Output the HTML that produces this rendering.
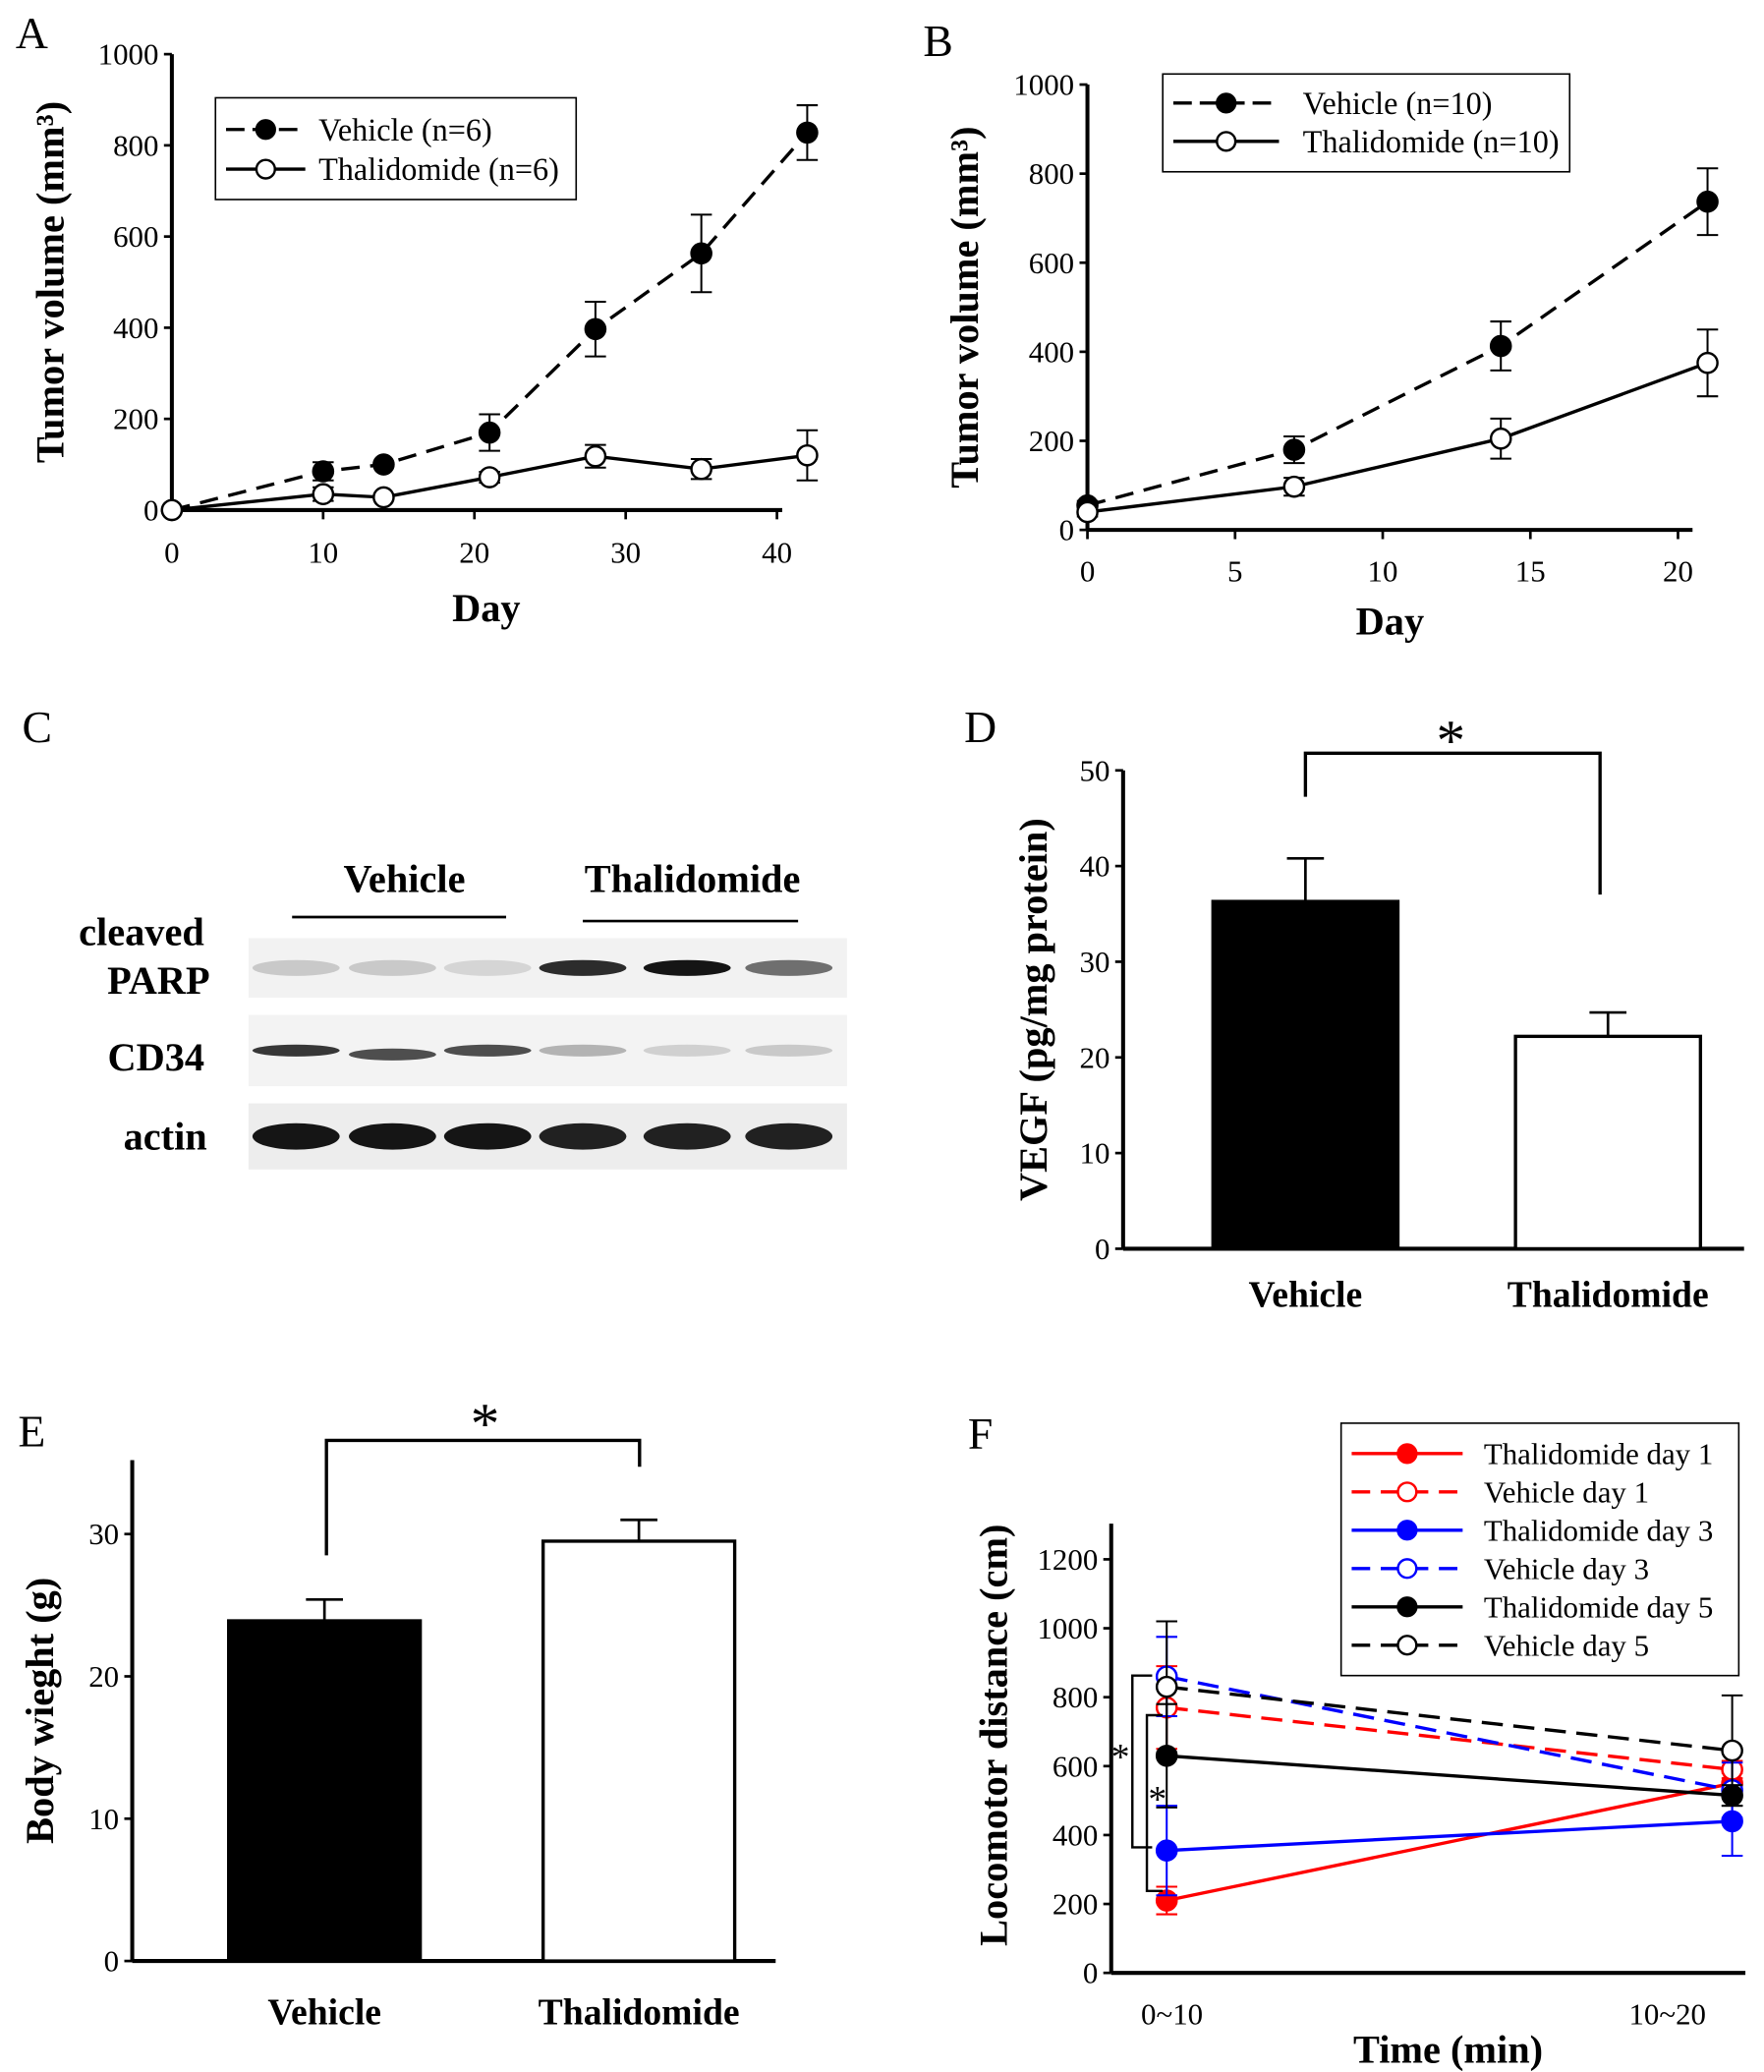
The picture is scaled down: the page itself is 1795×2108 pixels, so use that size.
<!DOCTYPE html>
<html><head><meta charset="utf-8">
<style>
html,body{margin:0;padding:0;background:#fff;}
svg{display:block;font-family:"Liberation Serif",serif;}
</style></head>
<body>
<svg id="fig" width="1795" height="2108" viewBox="0 0 1335 1568" xmlns="http://www.w3.org/2000/svg">
<rect width="1335" height="1568" fill="#fff"/>
</svg>
<script>
// ---- Panel A data
const aDays=[0,10,14,21,28,35,42];
const aVeh=[0,85,100,170,397,563,828];
const aVehErr=[0,20,0,40,60,85,60];
const aThal=[0,35,28,72,118,90,120];
const aThalErr=[0,15,0,12,25,22,55];
const aYTicks=[0,200,400,600,800,1000];
const aXTicks=[0,10,20,30,40];
// ---- Panel B data
const bDays=[0,7,14,21];
const bVeh=[55,180,413,737];
const bVehErr=[10,30,55,75];
const bThal=[40,97,205,375];
const bThalErr=[10,20,45,75];
const bYTicks=[0,200,400,600,800,1000];
const bXTicks=[0,5,10,15,20];
// ---- Panel D data
const dCats=["Vehicle","Thalidomide"];
const dVals=[36.3,22.2];
const dErr=[4.5,2.5];
const dYTicks=[0,10,20,30,40,50];
// ---- Panel E data
const eCats=["Vehicle","Thalidomide"];
const eVals=[23.9,29.5];
const eErr=[1.5,1.5];
const eYTicks=[0,10,20,30];
// ---- Panel F data
const fCats=["0~10","10~20"];
const fNames=["Thalidomide  day 1","Vehicle  day 1","Thalidomide  day 3","Vehicle  day 3","Thalidomide  day 5","Vehicle  day 5"];
const fVals=[[210,550],[770,590],[355,440],[860,530],[630,515],[830,645]];
const fErrs=[[40,30],[120,25],[130,100],[115,80],[150,30],[190,160]];
const fYTicks=[0,200,400,600,800,1000,1200];

const NS="http://www.w3.org/2000/svg";
const svg=document.getElementById('fig');
function el(tag,attrs,parent,text){const e=document.createElementNS(NS,tag);for(const k in attrs)e.setAttribute(k,attrs[k]);if(text!==undefined)e.textContent=text;(parent||svg).appendChild(e);return e;}
function grp(name){const g=el('g',{});return g;}
function txt(g,x,y,s,size,opts){opts=opts||{};const t=el('text',{x:x,y:y,'font-size':size,'text-anchor':opts.anchor||'middle','dominant-baseline':'central','font-weight':opts.bold?'bold':'normal',fill:opts.fill||'#000'},g,s);if(opts.rot)t.setAttribute('transform','rotate(-90 '+x+' '+y+')');return t;}
function line(g,x1,y1,x2,y2,w,c,dash){const l=el('line',{x1:x1,y1:y1,x2:x2,y2:y2,stroke:c||'#000','stroke-width':w||2});if(dash)l.setAttribute('stroke-dasharray',dash);g.appendChild(l);return l;}

function axes(g,xa,y0,ytop,xend,yt,ys,xtArr,xs,ylab,xlab,ylabX,xlabY,tickY){
  line(g,xa,y0,xa,ytop,3);line(g,xa,y0,xend,y0,3);
  yt.forEach(v=>{const y=ys(v);line(g,xa-6,y,xa,y,2);const t=txt(g,xa-10,y,String(v),23,{anchor:'end'});});
  if(xtArr)xtArr.forEach(v=>{const x=xs(v);line(g,x,y0,x,y0+7,2);const t=txt(g,x,tickY,String(v),23);});
  const yl=txt(g,ylabX,(y0+ytop)/2+(ylab.cy||0),ylab.t,30,{bold:true,rot:true});
  if(xlab){const xl=txt(g,xlab.x,xlabY,xlab.t,30,{bold:true});}
}
function series(g,xsArr,vals,errs,xs,ys,color,dash,filled,name){
  const sg=el('g',{},g);
  const pts=xsArr.map((d,i)=>xs(d)+','+ys(vals[i])).join(' ');
  const pl=el('polyline',{points:pts,fill:'none',stroke:color,'stroke-width':2.5},sg);if(dash)pl.setAttribute('stroke-dasharray',dash);
  xsArr.forEach((d,i)=>{const x=xs(d);if(errs[i]>0){line(sg,x,ys(vals[i]-errs[i]),x,ys(vals[i]+errs[i]),1.5,color);line(sg,x-8,ys(vals[i]+errs[i]),x+8,ys(vals[i]+errs[i]),1.5,color);line(sg,x-8,ys(vals[i]-errs[i]),x+8,ys(vals[i]-errs[i]),1.5,color);}
    const c=el('circle',{cx:x,cy:ys(vals[i]),r:7.5,fill:filled?color:'#fff',stroke:color,'stroke-width':1.8},sg);});
}
function legendEntry(g,x,y,len,color,dash,filled,label,fs,gap){
  const lg=el('g',{},g);
  line(lg,x,y,x+len,y,2.5,color,dash);el('circle',{cx:x+len/2,cy:y,r:7,fill:filled?color:'#fff',stroke:color,'stroke-width':1.8},lg);
  txt(lg,x+len+(gap||12),y,label,fs,{anchor:'start'});
}

// ===== Panel A
(function(){
const g=grp('panel-a-chart');
const xs=d=>130+d*11.45, ys=v=>386-v*0.345;
txt(g,24,25,'A',34);
axes(g,130,386,41,592,aYTicks,ys,aXTicks,xs,{t:'Tumor volume (mm³)'},{t:'Day',x:368},38,460,418);
series(g,aDays,aVeh,aVehErr,xs,ys,'#000','14 8',true,'series-vehicle');
series(g,aDays,aThal,aThalErr,xs,ys,'#000',null,false,'series-thalidomide');
const lg=el('g',{},g);
el('rect',{x:163,y:74,width:273,height:77,fill:'#fff',stroke:'#000','stroke-width':1.2},lg);
legendEntry(lg,171,98,60,'#000','14 6',true,'Vehicle (n=6)',24,10);
legendEntry(lg,171,128,60,'#000',null,false,'Thalidomide (n=6)',24,10);
})();

// ===== Panel B
(function(){
const g=grp('panel-b-chart');
const xs=d=>823+d*22.35, ys=v=>401-v*0.337;
txt(g,710,31,'B',34);
axes(g,823,401,64,1281,bYTicks,ys,bXTicks,xs,{t:'Tumor volume (mm³)'},{t:'Day',x:1052},730,470,432);
series(g,bDays,bVeh,bVehErr,xs,ys,'#000','14 8',true,'series-vehicle');
series(g,bDays,bThal,bThalErr,xs,ys,'#000',null,false,'series-thalidomide');
const lg=el('g',{},g);
el('rect',{x:880,y:56,width:308,height:74,fill:'#fff',stroke:'#000','stroke-width':1.2},lg);
legendEntry(lg,888,78,80,'#000','14 6',true,'Vehicle (n=10)',24,18);
legendEntry(lg,888,107,80,'#000',null,false,'Thalidomide (n=10)',24,18);
})();

// ===== Panel C western blot
(function(){
const g=grp('panel-c-western-blot');
txt(g,28,550,'C',34);
txt(g,306,665,'Vehicle',30,{bold:true});
txt(g,524,665,'Thalidomide',30,{bold:true});
line(g,221,694,383,694,2);line(g,441,697,604,697,2);
txt(g,107,705,'cleaved',30,{bold:true});txt(g,120,742,'PARP',30,{bold:true});
txt(g,118,800,'CD34',30,{bold:true});txt(g,125,860,'actin',30,{bold:true});
const lanes=[224,297,369,441,520,597];
const rows=[{y:710,h:45,bg:'#f2f2f2',int:[0.15,0.15,0.1,0.85,0.95,0.55],bh:12},
            {y:768,h:54,bg:'#f3f3f3',int:[0.8,0.7,0.7,0.25,0.12,0.15],bh:9},
            {y:835,h:50,bg:'#ededed',int:[0.95,0.95,0.95,0.9,0.9,0.9],bh:20}];
rows.forEach((r,ri)=>{const rg=el('g',{},g);
 el('rect',{x:188,y:r.y,width:453,height:r.h,fill:r.bg},rg);
 lanes.forEach((x,i)=>{const v=Math.round(235-r.int[i]*225);el('ellipse',{cx:x,cy:r.y+r.h/2+(ri==1?(i==1?3:0):0),rx:33,ry:r.bh/2,fill:'rgb('+v+','+v+','+v+')'},rg);});
});
})();

// ===== bar charts
function barChart(name,xa,y0,ytop,xend,yt,ys,cats,vals,errs,barX,barW,ylab,ylabX,catY,bracket,star,label){
 const g=grp(name);
 txt(g,label.x,label.y,label.t,34);
 axes(g,xa,y0,ytop,xend,yt,ys,null,null,{t:ylab},null,ylabX,0,0);
 cats.forEach((c,i)=>{const bg=el('g',{},g);
   const x=barX[i];const top=ys(vals[i]);
   line(bg,x+barW/2,top,x+barW/2,ys(vals[i]+errs[i]),2);line(bg,x+barW/2-14,ys(vals[i]+errs[i]),x+barW/2+14,ys(vals[i]+errs[i]),2);
   el('rect',{x:x,y:top,width:barW,height:y0-top,fill:i==0?'#000':'#fff',stroke:'#000','stroke-width':2.5},bg);
   const t=txt(g,x+barW/2,catY,c,28,{bold:true});});
 const b=el('polyline',{points:bracket,fill:'none',stroke:'#000','stroke-width':2.5},g);
 txt(g,star.x,star.y,'*',44);
}
barChart('panel-d-chart',850,945,583,1320,dYTicks,v=>945-v*7.24,dCats,dVals,dErr,[918,1147],140,'VEGF (pg/mg protein)',782,980,
 '988,603 988,570 1211,570 1211,677',{x:1098,y:560},{x:742,y:550,t:'D'});
barChart('panel-e-chart',100,1484,1105,587,eYTicks,v=>1484-v*10.77,eCats,eVals,eErr,[173,411],145,'Body wieght (g)',30,1523,
 '247,1177 247,1090 484,1090 484,1110',{x:367,y:1077},{x:24,y:1083,t:'E'});

// ===== Panel F
(function(){
const g=grp('panel-f-chart');
const xs=i=>[883,1311][i], ys=v=>1493-v*0.2608;
const colors=['#f00','#f00','#00f','#00f','#000','#000'];
const dashed=[false,true,false,true,false,true];
txt(g,742,1085,'F',34);
axes(g,841,1493,1153,1321,fYTicks,ys,null,null,{t:'Locomotor distance (cm)',cy:-10},{t:'Time (min)',x:1096},752,1551,0);
fCats.forEach((c,i)=>{const t=txt(g,[887,1262][i],1524,c,23);});
fVals.forEach((v,k)=>series(g,[0,1],v,fErrs[k],xs,ys,colors[k],dashed[k]?'16 8':null,!dashed[k],'series-'+fNames[k].replace(/\s+/g,'-').toLowerCase()));
const sb=el('g',{},g);
el('polyline',{points:'872,1268 857,1268 857,1398 872,1398',fill:'none',stroke:'#000','stroke-width':1.8},sb);
el('polyline',{points:'880,1298 868,1298 868,1431 880,1431',fill:'none',stroke:'#000','stroke-width':1.8},sb);
txt(sb,848,1330,'*',28);txt(sb,876,1362,'*',28);
const lg=el('g',{},g);
el('rect',{x:1015,y:1077,width:301,height:191,fill:'#fff',stroke:'#000','stroke-width':1.2},lg);
fNames.forEach((n,k)=>legendEntry(lg,1023,1100+k*29,84,colors[k],dashed[k]?'14 8':null,!dashed[k],n,23,16));
})();
</script>
</body></html>
